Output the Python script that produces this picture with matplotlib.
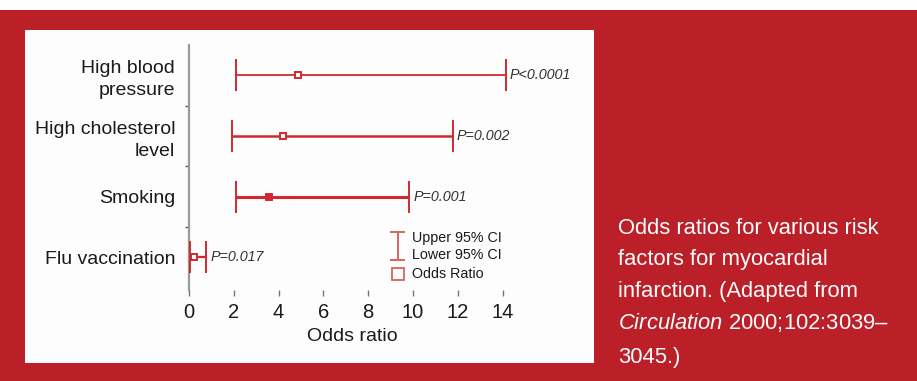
import matplotlib
matplotlib.use("Agg")
import matplotlib.pyplot as plt
from matplotlib.patches import Rectangle

plt.rcParams['font.family'] = ['Liberation Sans', 'DejaVu Sans']
plt.rcParams['mathtext.fontset'] = 'custom'
plt.rcParams['mathtext.rm'] = 'Liberation Sans'
plt.rcParams['mathtext.it'] = 'Liberation Sans:italic'

# data
categories = ["High blood\npressure", "High cholesterol\nlevel", "Smoking", "Flu vaccination"]
odds = [4.88, 4.18, 3.55, 0.22]
lower = [2.12, 1.9, 2.12, 0.05]
upper = [14.14, 11.77, 9.83, 0.76]
pvals = ["P<0.0001", "P=0.002", "P=0.001", "P=0.017"]
xticks = [0, 2, 4, 6, 8, 10, 12, 14]

bg_red = '#bb1f28'
bar_red = '#d02a2e'
leg_red = '#d8655c'

W, H = 917, 381
fig = plt.figure(figsize=(W / 100, H / 100), dpi=100, facecolor=bg_red)

# white strip at the top and white chart panel
fig.patches.append(Rectangle((0, 1 - 10 / H), 1, 10 / H, transform=fig.transFigure,
                             facecolor='white', edgecolor='none', zorder=-5))
fig.patches.append(Rectangle((25 / W, 1 - 363 / H), (594 - 25) / W, (363 - 30) / H,
                             transform=fig.transFigure, facecolor='#fdfdfd',
                             edgecolor='none', zorder=-5))

ax = fig.add_axes([189 / W, 1 - 290 / H, 327 / W, 245 / H])
ax.set_facecolor('none')
ax.set_zorder(2)

ypos = [3, 2, 1, 0]
lws = [1.3, 1.8, 2.2, 1.6]
for i in range(len(categories)):
    xerr = [[odds[i] - lower[i]], [upper[i] - odds[i]]]
    eb = ax.errorbar(odds[i], ypos[i], xerr=xerr, fmt='s', color=bar_red,
                     ecolor=bar_red, elinewidth=lws[i], capsize=11.5, capthick=1.6,
                     markersize=5, markeredgewidth=1.4,
                     markerfacecolor=bar_red if i == 2 else 'white', zorder=3)
    for art in eb.get_children():
        art.set_clip_on(False)
    ax.annotate(pvals[i], (upper[i], ypos[i]), xytext=(3, 0), textcoords='offset points',
                va='center', ha='left', fontsize=10.3, fontstyle='italic', color='#333333')

ax.set_xlim(0, 14.6)
ax.set_ylim(-0.54, 3.5)

for s in ['top', 'right', 'bottom']:
    ax.spines[s].set_visible(False)
ax.spines['left'].set_color('#9a9a9a')
ax.spines['left'].set_linewidth(1.6)

ax.set_yticks(ypos)
ax.set_yticklabels(categories, fontsize=14, color='#1a1a1a', linespacing=1.35)
ax.set_yticks([0.5, 1.5, 2.5], minor=True)
ax.tick_params(axis='y', which='major', length=0, pad=10)
ax.tick_params(axis='y', which='minor', length=3, width=1, color='#555555')

ax.set_xticks(xticks)
ax.set_xticklabels([str(t) for t in xticks], fontsize=14.5, color='#1a1a1a')
ax.tick_params(axis='x', length=4, width=1, color='#777777', pad=5)
ax.set_xlabel('Odds ratio', fontsize=14, color='#1a1a1a', labelpad=5)

# legend glyphs
tr = ax.transAxes
ax.plot([0.639, 0.639], [0.122, 0.237], color=leg_red, lw=1.4, transform=tr, clip_on=False)
ax.plot([0.619, 0.659], [0.237, 0.237], color=leg_red, lw=1.4, transform=tr, clip_on=False)
ax.plot([0.619, 0.659], [0.122, 0.122], color=leg_red, lw=1.4, transform=tr, clip_on=False)
ax.plot([0.639], [0.066], marker='s', markersize=8.6, markerfacecolor='white',
        markeredgecolor=leg_red, markeredgewidth=1.3, transform=tr, clip_on=False)
for txt, yy in [("Upper 95% CI", 0.212), ("Lower 95% CI", 0.143), ("Odds Ratio", 0.066)]:
    ax.text(0.681, yy, txt, transform=tr, fontsize=10.3, va='center', ha='left', color='#1a1a1a')

# caption on the right
cap_lines = ["Odds ratios for various risk", "factors for myocardial",
             "infarction. (Adapted from", r"$\it{Circulation}$ 2000;102:3039–", "3045.)"]
cap_y = [228, 260, 292, 323, 357]
for txt, yy in zip(cap_lines, cap_y):
    fig.text(618 / W, 1 - yy / H, txt, fontsize=15.8, color='white', va='center', ha='left')

fig.savefig('out.png', dpi=100, facecolor=bg_red)
